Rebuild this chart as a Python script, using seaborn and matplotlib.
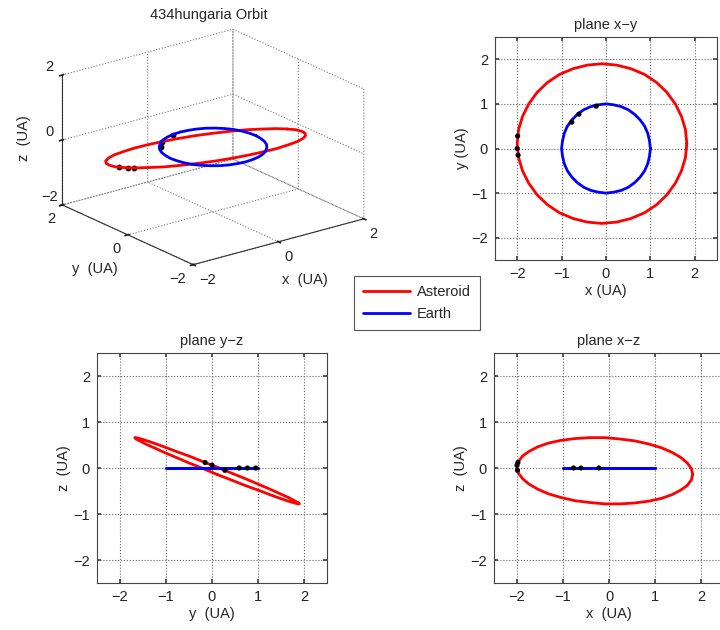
import numpy as np
import matplotlib
matplotlib.use('Agg')
import matplotlib.pyplot as plt
import seaborn as sns

# ---- data ----
ast_x = [1.82, 1.79, 1.70, 1.56, 1.37, 1.14, 0.87, 0.56, 0.24, -0.09, -0.42, -0.74,
         -1.05, -1.32, -1.55, -1.74, -1.88, -1.97, -2.00, -1.97, -1.88, -1.74, -1.55, -1.32,
         -1.05, -0.74, -0.42, -0.09, 0.24, 0.56, 0.87, 1.14, 1.37, 1.56, 1.70, 1.79]
ast_y = [0.11, 0.42, 0.72, 1.00, 1.26, 1.48, 1.66, 1.79, 1.87, 1.90, 1.87, 1.79,
         1.66, 1.48, 1.26, 1.00, 0.72, 0.42, 0.11, -0.20, -0.50, -0.78, -1.04, -1.26,
         -1.44, -1.57, -1.65, -1.68, -1.65, -1.57, -1.44, -1.26, -1.04, -0.78, -0.50, -0.20]
ast_z = [-0.14, -0.26, -0.38, -0.48, -0.58, -0.66, -0.72, -0.76, -0.78, -0.78, -0.75, -0.71,
         -0.64, -0.56, -0.46, -0.35, -0.23, -0.11, 0.02, 0.14, 0.26, 0.36, 0.46, 0.54,
         0.60, 0.64, 0.66, 0.66, 0.63, 0.59, 0.52, 0.44, 0.34, 0.23, 0.11, -0.01]

earth_x = [1.00, 0.98, 0.94, 0.87, 0.77, 0.64, 0.50, 0.34, 0.17, 0.00, -0.17, -0.34,
           -0.50, -0.64, -0.77, -0.87, -0.94, -0.98, -1.00, -0.98, -0.94, -0.87, -0.77, -0.64,
           -0.50, -0.34, -0.17, 0.00, 0.17, 0.34, 0.50, 0.64, 0.77, 0.87, 0.94, 0.98]
earth_y = [0.00, 0.17, 0.34, 0.50, 0.64, 0.77, 0.87, 0.94, 0.98, 1.00, 0.98, 0.94,
           0.87, 0.77, 0.64, 0.50, 0.34, 0.17, 0.00, -0.17, -0.34, -0.50, -0.64, -0.77,
           -0.87, -0.94, -0.98, -1.00, -0.98, -0.94, -0.87, -0.77, -0.64, -0.50, -0.34, -0.17]
earth_z = [0.0] * 36

ast_dot_x = [-1.99, -2.00, -1.98]
ast_dot_y = [0.28, 0.00, -0.15]
ast_dot_z = [-0.05, 0.06, 0.12]
earth_dot_x = [-0.77, -0.61, -0.22]
earth_dot_y = [0.59, 0.77, 0.95]
earth_dot_z = [0.0, 0.0, 0.0]

ticks2d = [-2, -1, 0, 1, 2]
ticks3d = [-2, 0, 2]
legend_labels = ['Asteroid', 'Earth']
title3d = '434hungaria Orbit'

# ---- style ----
sns.set_theme(style='white')
plt.rcParams['font.family'] = ['Liberation Sans', 'DejaVu Sans']
plt.rcParams.update({
    'font.size': 10,
    'grid.linestyle': ':',
    'grid.color': '#666666',
    'grid.linewidth': 0.8,
    'axes.edgecolor': '#444444',
    'axes.linewidth': 0.8,
    'xtick.color': '#222222',
    'ytick.color': '#222222',
    'axes.unicode_minus': True,
})

RED = '#ff0000'
BLUE = '#0000ff'
FS = 10.5


def closed(v):
    return list(v) + [v[0]]


def minus(t):
    return f'{t}'.replace('-', '\u2212')


fig = plt.figure(figsize=(7.2, 6.3), dpi=100)


def style2d(ax, title, xl, yl):
    ax.set_xlim(-2.5, 2.5)
    ax.set_ylim(-2.5, 2.5)
    ax.set_xticks(ticks2d)
    ax.set_yticks(ticks2d)
    ax.set_xticklabels([minus(t) for t in ticks2d], fontsize=FS)
    ax.set_yticklabels([minus(t) for t in ticks2d], fontsize=FS)
    ax.grid(True)
    ax.tick_params(direction='in', length=3, top=True, right=True,
                   bottom=True, left=True, color='#444444', pad=5)
    ax.set_title(title, fontsize=FS, pad=6)
    ax.set_xlabel(xl, fontsize=FS, labelpad=2)
    ax.set_ylabel(yl, fontsize=FS, labelpad=2)
    for s in ax.spines.values():
        s.set_visible(True)


def plane(rect, h_ast, v_ast, h_earth, v_earth, h_dots, v_dots, title, xl, yl):
    ax = fig.add_axes(rect)
    sns.lineplot(x=closed(h_ast), y=closed(v_ast), sort=False, estimator=None,
                 color=RED, lw=2, ax=ax, legend=False)
    sns.lineplot(x=closed(h_earth), y=closed(v_earth), sort=False, estimator=None,
                 color=BLUE, lw=2, ax=ax, legend=False)
    sns.scatterplot(x=h_dots, y=v_dots, color='black', s=14, edgecolor='none',
                    ax=ax, zorder=5, legend=False)
    style2d(ax, title, xl, yl)
    return ax


plane([495/720, 1-260/630, 222/720, 223/630], ast_x, ast_y, earth_x, earth_y,
      ast_dot_x + earth_dot_x, ast_dot_y + earth_dot_y, 'plane x\u2212y', 'x (UA)', 'y (UA)')
plane([97/720, 1-583/630, 230/720, 230/630], ast_y, ast_z, earth_y, earth_z,
      ast_dot_y + earth_dot_y, ast_dot_z + earth_dot_z, 'plane y\u2212z', 'y  (UA)', 'z  (UA)')
plane([494/720, 1-583/630, 230/720, 230/630], ast_x, ast_z, earth_x, earth_z,
      ast_dot_x + earth_dot_x, ast_dot_z + earth_dot_z, 'plane x\u2212z', 'x  (UA)', 'z  (UA)')

# 3D orbit
ax3 = fig.add_axes([0.0, 0.51, 0.58, 0.50], projection='3d')
ax3.set_facecolor('white')
ax3.set_proj_type('ortho')
l_ast, = ax3.plot(closed(ast_x), closed(ast_y), closed(ast_z), color=RED, lw=2)
l_earth, = ax3.plot(closed(earth_x), closed(earth_y), closed(earth_z), color=BLUE, lw=2)
ax3.scatter(ast_dot_x + earth_dot_x, ast_dot_y + earth_dot_y, ast_dot_z + earth_dot_z,
            color='black', s=10, depthshade=False)
ax3.view_init(elev=20.5, azim=-127.5)
ax3.set_box_aspect((1, 1, 0.645), zoom=1.03)
ax3.set_xlim(-2, 2); ax3.set_ylim(-2, 2); ax3.set_zlim(-2, 2)
for axis in (ax3.xaxis, ax3.yaxis, ax3.zaxis):
    axis.set_ticks(ticks3d)
    axis.set_ticklabels([minus(t) for t in ticks3d])
    axis.set_pane_color((1, 1, 1, 0))
    axis.pane.set_edgecolor('none')
    axis.line.set_color('#333333')
    axis.line.set_linewidth(0.8)
    axis._axinfo['grid']['linestyle'] = ':'
    axis._axinfo['grid']['color'] = '#777777'
    axis._axinfo['grid']['linewidth'] = 0.8
    axis.set_rotate_label(False)
ax3.tick_params(labelsize=FS, pad=-3)
for lbl in ax3.xaxis.get_ticklabels():
    lbl.set_ha('left')
for lbl in ax3.yaxis.get_ticklabels():
    lbl.set_ha('right')
for lbl in ax3.zaxis.get_ticklabels():
    lbl.set_va('bottom')
ax3.set_xlabel('x  (UA)', fontsize=FS, labelpad=3, rotation=0)
ax3.set_ylabel('y  (UA)', fontsize=FS, labelpad=2, rotation=0)
ax3.set_zlabel('z  (UA)', fontsize=FS, labelpad=-6, rotation=90)
ax3.set_title(title3d, fontsize=FS, y=1.0, pad=0)

leg = fig.legend([l_ast, l_earth], legend_labels, loc='center',
                 bbox_to_anchor=(417/720, 1-303/630), frameon=True, fancybox=False,
                 edgecolor='#555555', framealpha=1, handlelength=3.2, fontsize=FS,
                 borderpad=0.6, labelspacing=0.55, handletextpad=0.5)
leg.get_frame().set_linewidth(0.8)

fig.savefig('out.png', dpi=100, facecolor='white')
